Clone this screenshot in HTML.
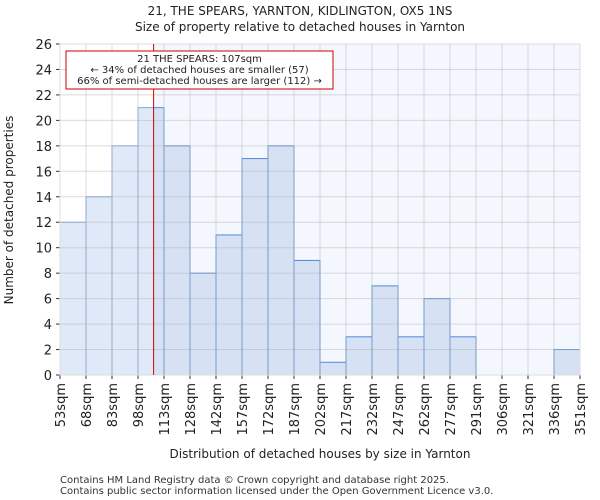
<!DOCTYPE html>
<html><head><meta charset="utf-8"><style>body{margin:0;background:#fff}svg{display:block;font-family:"DejaVu Sans","Liberation Sans",sans-serif}</style></head>
<body>
<svg id="chart" width="600" height="500" xmlns="http://www.w3.org/2000/svg">
<text x="300" y="15" text-anchor="middle" font-size="12" fill="#222">21, THE SPEARS, YARNTON, KIDLINGTON, OX5 1NS</text>
<text x="300" y="31" text-anchor="middle" font-size="12" fill="#222">Size of property relative to detached houses in Yarnton</text>
<g id="plot"></g>
<text x="320" y="458" text-anchor="middle" font-size="12" fill="#222">Distribution of detached houses by size in Yarnton</text>
<text transform="translate(13,210) rotate(-90)" text-anchor="middle" font-size="12" fill="#222">Number of detached properties</text>
<text x="60" y="483" font-size="10" fill="#333">Contains HM Land Registry data © Crown copyright and database right 2025.</text>
<text x="60" y="494" font-size="10" fill="#333">Contains public sector information licensed under the Open Government Licence v3.0.</text>
</svg>
<script>
const binLabels=["53sqm","68sqm","83sqm","98sqm","113sqm","128sqm","142sqm","157sqm","172sqm","187sqm","202sqm","217sqm","232sqm","247sqm","262sqm","277sqm","291sqm","306sqm","321sqm","336sqm","351sqm"];
const binEdges=[53,68,83,98,113,128,142,157,172,187,202,217,232,247,262,277,291,306,321,336,351];
const counts=[12,14,18,21,18,8,11,17,18,9,1,3,7,3,6,3,0,0,0,2];
const yTicks=[0,2,4,6,8,10,12,14,16,18,20,22,24,26];
const propertySize=107;
const NS="http://www.w3.org/2000/svg";
const L=60,R=580,T=44,B=375;
const nb=counts.length;
function xIdx(i){return L+(R-L)*i/nb;}
function xVal(v){let i=0;while(i<binEdges.length-2&&v>binEdges[i+1])i++;return xIdx(i)+(v-binEdges[i])/(binEdges[i+1]-binEdges[i])*(xIdx(i+1)-xIdx(i));}
function y(v){return B-(B-T)*v/26;}
const g=document.getElementById('plot');
function mk(t,a){const e=document.createElementNS(NS,t);for(const k in a)e.setAttribute(k,a[k]);g.appendChild(e);return e;}
const px=xVal(propertySize);
let bg=mk('rect',{x:px,y:T,width:R-px,height:B-T,fill:'#f4f7fd'});


counts.forEach((c,i)=>{const r=mk('rect',{x:xIdx(i),y:y(c),width:xIdx(i+1)-xIdx(i),height:B-y(c),fill:'#d6e2f4',stroke:'#4f89dc','stroke-width':1});

});
let ov=mk('rect',{x:L,y:T,width:px-L,height:B-T,fill:'#fff','fill-opacity':0.25});


yTicks.forEach(t=>{const l=mk('line',{x1:L,x2:R,y1:y(t),y2:y(t),stroke:'#b0b0b0','stroke-opacity':0.45});


mk('line',{x1:L-4,x2:L,y1:y(t),y2:y(t),stroke:'#333'});
const tx=mk('text',{x:L-8,y:y(t)+5,'text-anchor':'end','font-size':13,fill:'#222'});tx.textContent=t;

});
binLabels.forEach((lab,i)=>{const xx=xIdx(i);const l=mk('line',{x1:xx,x2:xx,y1:T,y2:B,stroke:'#b0b0b0','stroke-opacity':0.45});


mk('line',{x1:xx,x2:xx,y1:B,y2:B+4,stroke:'#333'});
const tx=mk('text',{'text-anchor':'end','font-size':13,fill:'#222',transform:`translate(${xx+5},${B+8}) rotate(-90)`});tx.textContent=lab;

});
let fr=mk('rect',{x:L,y:T,width:R-L,height:B-T,fill:'none',stroke:'#ddd'});


let ml=mk('line',{x1:px,x2:px,y1:T,y2:B,stroke:'#dd0000','stroke-width':1});


let box=mk('rect',{x:66,y:51,width:267,height:38,fill:'#fff',stroke:'#cc0000'});


["21 THE SPEARS: 107sqm","← 34% of detached houses are smaller (57)","66% of semi-detached houses are larger (112) →"].forEach((s,i)=>{const t=mk('text',{x:199.5,y:62+i*11,'text-anchor':'middle','font-size':10,fill:'#222'});t.textContent=s;

});
</script>
</body></html>
